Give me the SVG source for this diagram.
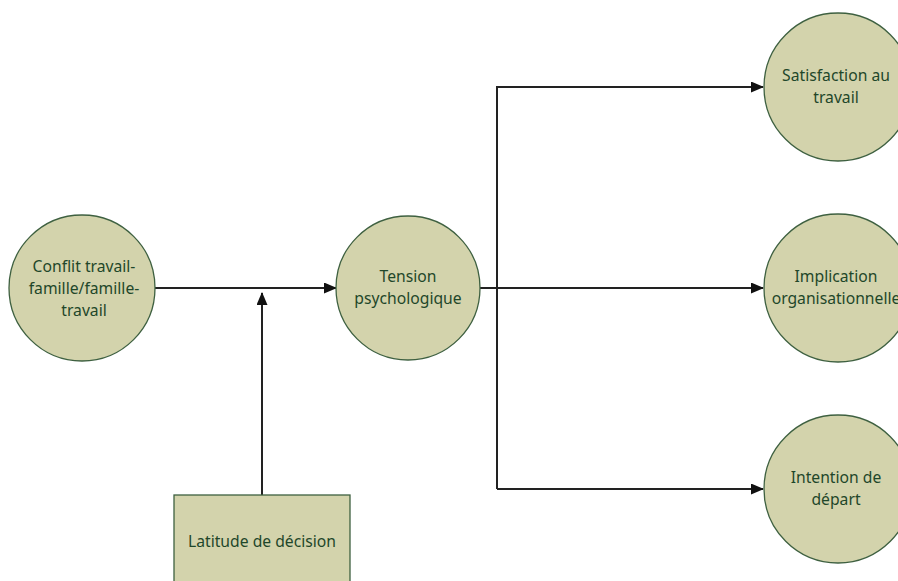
<svg xmlns="http://www.w3.org/2000/svg" width="898" height="581" viewBox="0 0 898 581">
<style>
.n{fill:#d3d3ac;stroke:#3e6040;stroke-width:1.3}
.t{font-family:"Noto Sans","Liberation Sans",Arial,sans-serif;font-size:15.7px;fill:#1f472a;text-anchor:middle}
.c{fill:none;stroke:#222;stroke-width:2}
</style>
<defs>
<marker id="a" markerWidth="13" markerHeight="11" refX="12" refY="5.5" orient="auto" markerUnits="userSpaceOnUse">
<path d="M0,0 L13,5.5 L0,11 Z" fill="#111"/>
</marker>
</defs>
<rect width="898" height="581" fill="#fff"/>
<g id="connectors">
<path class="c" d="M155,288 H336" marker-end="url(#a)"/>
<path class="c" d="M262,495 V293" marker-end="url(#a)"/>
<path class="c" d="M480,288 H763" marker-end="url(#a)"/>
<path class="c" d="M497,489 V87 H763" marker-end="url(#a)"/>
<path class="c" d="M497,489 H763" marker-end="url(#a)"/>
</g>
<g id="conflit">
<circle class="n" cx="82" cy="288" r="73"/>
<text class="t" x="84" y="272">Conflit travail-</text>
<text class="t" x="84" y="294">famille/famille-</text>
<text class="t" x="84" y="316">travail</text>
</g>
<g id="tension">
<circle class="n" cx="408" cy="288" r="72"/>
<text class="t" x="408" y="282">Tension</text>
<text class="t" x="408" y="304">psychologique</text>
</g>
<g id="satisfaction">
<circle class="n" cx="838" cy="87" r="74"/>
<text class="t" x="836" y="81">Satisfaction au</text>
<text class="t" x="836" y="103">travail</text>
</g>
<g id="implication">
<circle class="n" cx="838" cy="288" r="74"/>
<text class="t" x="836" y="282">Implication</text>
<text class="t" x="836" y="304">organisationnelle</text>
</g>
<g id="intention">
<circle class="n" cx="838" cy="489" r="74"/>
<text class="t" x="836" y="483">Intention de</text>
<text class="t" x="836" y="505">départ</text>
</g>
<g id="latitude">
<rect class="n" x="174" y="495" width="176" height="100"/>
<text class="t" x="262" y="547">Latitude de décision</text>
</g>
</svg>
